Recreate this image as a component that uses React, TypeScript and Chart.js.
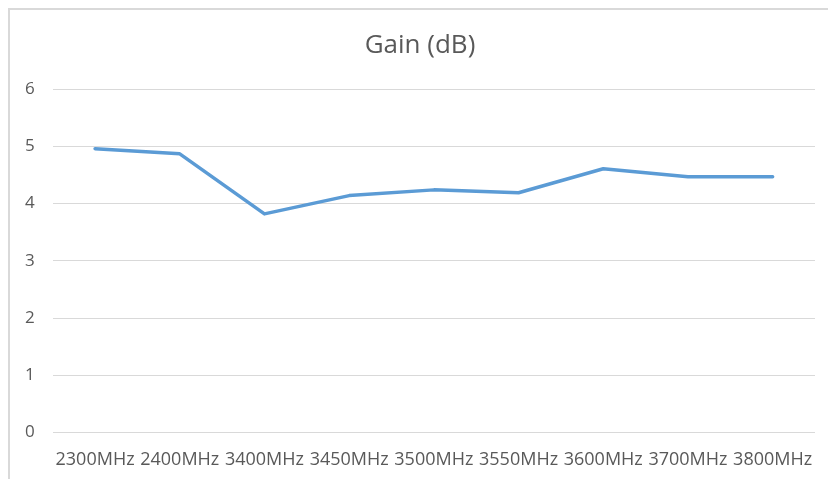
import React, { useEffect, useRef } from "react";
import { Chart, registerables } from "chart.js";

Chart.register(...registerables);

const categories = ["2300MHz", "2400MHz", "3400MHz", "3450MHz", "3500MHz", "3550MHz", "3600MHz", "3700MHz", "3800MHz"];
const gainValues = [4.96, 4.87, 3.82, 4.14, 4.24, 4.19, 4.61, 4.47, 4.47];
const yTicks = [0, 1, 2, 3, 4, 5, 6];

const X_TICK_PAD = 17;
const Y_TICK_PAD = 18;

export default function App() {
  const ref = useRef<HTMLCanvasElement | null>(null);
  useEffect(() => {
    if (!ref.current) return;
    const chart = new Chart(ref.current, {
      type: "line",
      data: {
        labels: categories,
        datasets: [
          {
            label: "Gain (dB)",
            data: gainValues,
            borderColor: "#5b9bd5",
            backgroundColor: "#5b9bd5",
            borderWidth: 3.5,
            pointRadius: 0,
            tension: 0,
            borderJoinStyle: "round",
            borderCapStyle: "round",
          },
        ],
      },
      options: {
        animation: false,
        responsive: false,
        maintainAspectRatio: false,
        layout: { padding: { left: 15, right: 13, top: 0, bottom: 8 } },
        plugins: {
          legend: { display: false },
          tooltip: { enabled: false },
          title: {
            display: true,
            text: "Gain (dB)",
            color: "#595959",
            font: { family: "Open Sans", size: 26, weight: "normal" },
            padding: { top: 20, bottom: 28 },
          },
        },
        scales: {
          x: {
            type: "category",
            offset: true,
            grid: { display: false, drawTicks: false },
            border: { display: false },
            afterFit: (axis: any) => {
              axis.paddingLeft = 0;
              axis.paddingRight = 0;
              axis.height = axis.height - X_TICK_PAD;
            },
            ticks: {
              color: "#595959",
              font: { family: "Open Sans", size: 18 },
              padding: X_TICK_PAD,
              maxRotation: 0,
              minRotation: 0,
              autoSkip: false,
            },
          },
          y: {
            min: 0,
            max: 6,
            afterBuildTicks: (axis: any) => {
              axis.ticks = yTicks.map((v) => ({ value: v }));
            },
            afterFit: (axis: any) => {
              axis.width = axis.width - Y_TICK_PAD;
            },
            grid: { color: "#d9d9d9", lineWidth: 1, drawTicks: false },
            border: { display: false },
            ticks: {
              color: "#595959",
              font: { family: "Open Sans", size: 17 },
              padding: Y_TICK_PAD,
            },
          },
        },
      },
    });
    return () => chart.destroy();
  }, []);
  return (
    <div
      style={{
        position: "fixed",
        left: 8,
        top: 8,
        width: 820,
        height: 471,
        borderTop: "2px solid #d9d9d9",
        borderLeft: "2px solid #d9d9d9",
        boxSizing: "border-box",
        overflow: "hidden",
        background: "#fff",
      }}
    >
      <canvas ref={ref} width={818} height={469} style={{ display: "block" }} />
    </div>
  );
}
